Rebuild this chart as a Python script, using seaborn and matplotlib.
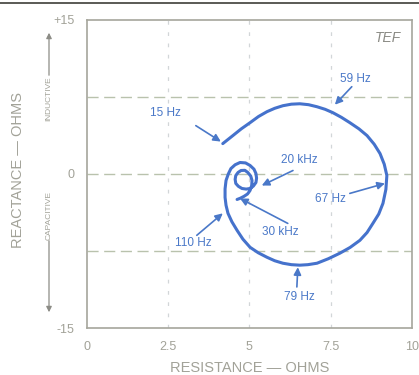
import matplotlib
matplotlib.use("Agg")
import matplotlib.pyplot as plt
import seaborn as sns
import pandas as pd
from matplotlib.lines import Line2D

# Impedance locus of a loudspeaker (resistance vs reactance, ohms)
resistance = [4.18, 4.49, 4.75, 5.02, 5.28, 5.54, 5.78, 6.03, 6.29, 6.55, 6.82, 7.08, 7.33,
              7.57, 7.83, 8.09, 8.37, 8.62, 8.84, 9.02, 9.15, 9.23, 9.20, 9.11, 8.98,
              8.80, 8.62, 8.40, 8.10, 7.78, 7.43, 7.08, 6.80, 6.55, 6.29, 6.03, 5.78,
              5.54, 5.27, 5.02, 4.80, 4.62, 4.46, 4.34, 4.28, 4.25, 4.25, 4.28, 4.35,
              4.43, 4.56, 4.71, 4.88, 5.02, 5.14, 5.20, 5.22, 5.20, 5.12, 5.02, 4.90,
              4.77, 4.66, 4.58, 4.56, 4.58, 4.65, 4.74, 4.86, 4.95, 5.04, 5.08, 5.07,
              5.02, 4.94, 4.83, 4.72, 4.62]
reactance = [2.96, 3.74, 4.40, 5.00, 5.60, 6.07, 6.40, 6.65, 6.80, 6.84, 6.75, 6.55, 6.30,
             5.97, 5.52, 5.00, 4.40, 3.74, 2.90, 1.99, 0.95, -0.15, -1.50, -2.86, -3.90,
             -4.81, -5.70, -6.46, -7.15, -7.72, -8.25, -8.69, -8.83, -8.88, -8.83, -8.69, -8.45,
             -8.11, -7.67, -7.14, -6.35, -5.49, -4.65, -3.83, -3.05, -2.28, -1.45, -0.63, 0.00,
             0.53, 0.90, 1.12, 1.08, 0.83, 0.47, 0.05, -0.40, -0.83, -1.18, -1.41, -1.47,
             -1.41, -1.20, -0.92, -0.52, -0.15, 0.15, 0.34, 0.36, 0.15, -0.20, -0.63, -1.12,
             -1.60, -1.95, -2.18, -2.36, -2.48]

# Frequency markers: label, label position, arrow tail, arrow head
freq_labels = ["15 Hz", "59 Hz", "20 kHz", "67 Hz", "30 kHz", "110 Hz", "79 Hz"]
label_pos = [(2.40, 5.97), (8.25, 9.27), (6.55, 1.41), (7.48, -2.48),
             (5.94, -5.68), (3.26, -6.75), (6.55, -11.99)]
arrow_tail = [(3.35, 4.71), (8.15, 8.50), (6.34, 0.34), (8.09, -1.89),
              (6.18, -4.81), (3.38, -5.97), (6.46, -11.0)]
arrow_head = [(4.12, 3.16), (7.63, 6.75), (5.38, -1.12), (9.17, -0.92),
              (4.71, -2.38), (4.18, -3.83), (6.49, -9.08)]

x_ticks = [0, 2.5, 5, 7.5, 10]
x_tick_labels = ["0", "2.5", "5", "7.5", "10"]
y_ticks = [-15, 0, 15]
y_tick_labels = ["-15", "0", "+15"]
grid_y = [-7.5, 0, 7.5]
grid_x = [2.5, 5, 7.5]

sns.set_theme(style="white")
plt.rcParams["font.family"] = ["Liberation Sans", "DejaVu Sans"]

gray = "#a2a298"
blue_line = "#4572cc"
blue_text = "#4a78c8"

fig = plt.figure(figsize=(4.19, 3.75), dpi=100)
ax = fig.add_axes([0.2076, 0.1253, 0.7754, 0.8214])

df = pd.DataFrame({"R": resistance, "X": reactance})

for gy in grid_y:
    ax.axhline(gy, color="#b9c2ad", lw=1.0, ls=(0, (8, 4)), zorder=1)
for gx in grid_x:
    ax.axvline(gx, color="#d2d6d8", lw=0.9, ls=(0, (3, 6)), zorder=1)

sns.lineplot(data=df, x="R", y="X", sort=False, estimator=None, ax=ax,
             color=blue_line, lw=2.2, zorder=3)
for line in ax.get_lines():
    line.set_solid_capstyle("round")
    line.set_solid_joinstyle("round")

for lab, tp, tail, head in zip(freq_labels, label_pos, arrow_tail, arrow_head):
    ax.annotate("", xy=head, xytext=tail,
                arrowprops=dict(arrowstyle="-|>", color=blue_text, lw=1.2,
                                mutation_scale=11, shrinkA=0, shrinkB=0),
                zorder=4)
    ax.text(tp[0], tp[1], lab, color=blue_text, fontsize=8.5,
            ha="center", va="center", zorder=5)

ax.text(0.965, 0.965, "TEF", transform=ax.transAxes, ha="right", va="top",
        fontsize=10, style="italic", color="#8a8a84")

ax.set_xlim(0, 10)
ax.set_ylim(-15, 15)
ax.set_xticks(x_ticks)
ax.set_xticklabels(x_tick_labels)
ax.set_yticks(y_ticks)
ax.set_yticklabels(y_tick_labels)
ax.tick_params(axis="both", length=0, labelsize=9, labelcolor=gray, pad=9)
ax.set_xlabel("RESISTANCE — OHMS", color=gray, fontsize=10.5, labelpad=6)
ax.set_ylabel("")
for sp in ax.spines.values():
    sp.set_color("#a6a69c")
    sp.set_linewidth(1.2)

# Left-hand axis annotations
fig.text(18 / 419, 1 - 170 / 375, "REACTANCE — OHMS", rotation=90, color=gray,
         fontsize=10.5, ha="center", va="center")
fig.text(49 / 419, 1 - 99 / 375, "INDUCTIVE", rotation=90, color=gray,
         fontsize=6, ha="center", va="center")
fig.text(49 / 419, 1 - 215 / 375, "CAPACITIVE", rotation=90, color=gray,
         fontsize=6, ha="center", va="center")
fig.patches.append(matplotlib.patches.FancyArrowPatch(
    (49 / 419, 1 - 78 / 375), (49 / 419, 1 - 30 / 375), transform=fig.transFigure,
    arrowstyle="-|>", mutation_scale=8, color="#8c8c86", lw=0.9))
fig.patches.append(matplotlib.patches.FancyArrowPatch(
    (49 / 419, 1 - 238 / 375), (49 / 419, 1 - 315 / 375), transform=fig.transFigure,
    arrowstyle="-|>", mutation_scale=8, color="#8c8c86", lw=0.9))

# Edge rule along the top of the page
fig.add_artist(Line2D([0, 1], [1 - 3 / 375, 1 - 3 / 375], transform=fig.transFigure,
                      color="#5a5a55", lw=1.4))

fig.savefig("out.png", dpi=100)
